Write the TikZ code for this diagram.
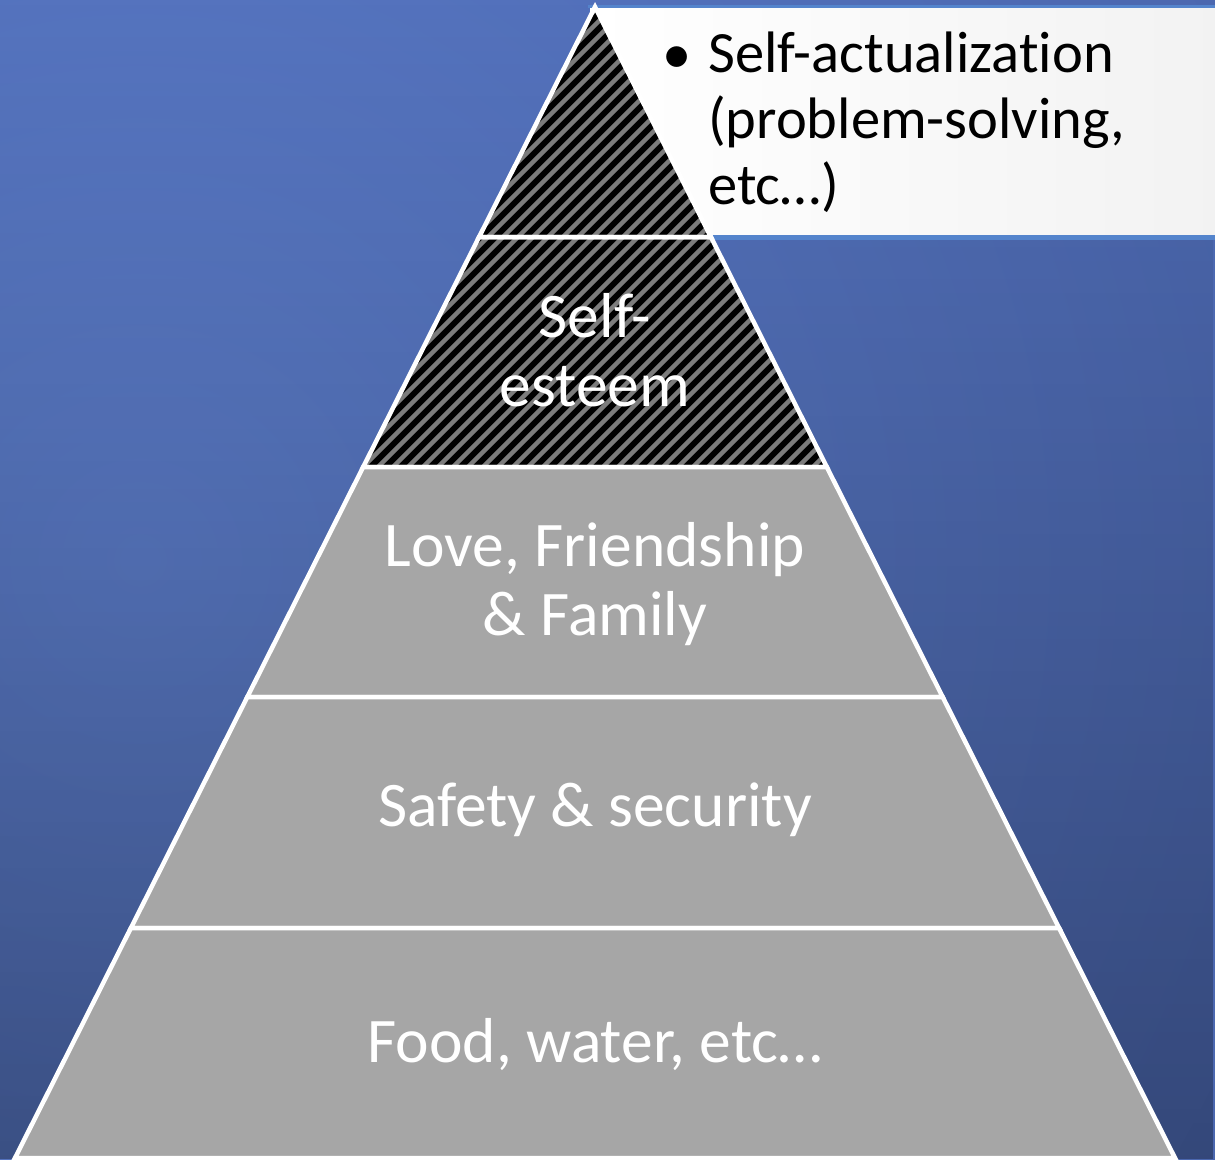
\documentclass[tikz,border=0pt]{standalone}
\usepackage{fontspec}
\setmainfont{Carlito}[Ligatures=NoCommon]
\usetikzlibrary{calc,fadings}

\definecolor{bgcenter}{RGB}{93,126,204}
\definecolor{bgmid}{RGB}{76,104,176}
\definecolor{bgedge}{RGB}{66,94,166}
\definecolor{bgdark}{RGB}{34,54,118}
\definecolor{tiergray}{RGB}{166,166,166}
\definecolor{hatchgray}{RGB}{124,124,124}
\definecolor{boxblue}{RGB}{84,132,204}

\pgfdeclareradialshading{bgglow}{\pgfpoint{0bp}{0bp}}{%
  color(0bp)=(bgcenter); color(22bp)=(bgmid); color(41bp)=(bgedge);
  color(48bp)=(bgdark); color(50bp)=(bgdark)}

\begin{document}
\begin{tikzpicture}[x=1pt,y=-1pt,
    tier/.style={draw=white, line width=4.5pt, line join=miter},
    tiertext/.style={text=white, font=\fontsize{63.5}{69}\selectfont, align=center, inner sep=0pt},
    boxtext/.style={text=black, font=\fontsize{58.5}{66}\selectfont, align=left, inner sep=0pt}]
    \useasboundingbox (0,0) rectangle (1215,1159);

    % background
    \begin{scope}
        \clip (0,0) rectangle (1215,1159);
        \fill[shading=bgglow] (140,560) circle (1300);
        \fill[black, opacity=0.3, path fading=north] (0,0) rectangle (1215,1159);
    \end{scope}

    % corner points of the pyramid
    \coordinate (A) at (595,7);
    \coordinate (L1) at (479.1,237);  \coordinate (R1) at (710.9,237);
    \coordinate (L2) at (363.2,467);  \coordinate (R2) at (826.8,467);
    \coordinate (L3) at (247.3,697);  \coordinate (R3) at (942.7,697);
    \coordinate (L4) at (130.9,928);  \coordinate (R4) at (1059.1,928);
    \coordinate (L5) at (15,1158);    \coordinate (R5) at (1175,1158);

    % text box behind the apex
    \shade[left color=white, right color=black!5] (590,6) rectangle (1215,237);
    \draw[boxblue, line width=3pt] (588,6) -- (1215,6);
    \draw[boxblue, line width=5pt] (590,237) -- (1215,237);

    % hatched top tiers
    \begin{scope}
        \clip (A) -- (L2) -- (R2) -- cycle;
        \fill[black] (A) -- (L2) -- (R2) -- cycle;
        \foreach \k in {0,...,58}
            \draw[hatchgray, line width=4.5pt] (\k*15,470) -- (\k*15+470,0);
    \end{scope}
    \draw[tier] (A) -- (L1) -- (R1) -- cycle;
    \draw[tier] (L1) -- (L2) -- (R2) -- (R1) -- cycle;

    % gray tiers
    \filldraw[tier, fill=tiergray] (L2) -- (L3) -- (R3) -- (R2) -- cycle;
    \filldraw[tier, fill=tiergray] (L3) -- (L4) -- (R4) -- (R3) -- cycle;
    \filldraw[tier, fill=tiergray] (L4) -- (L5) -- (R5) -- (R4) -- cycle;

    % labels
    \node[tiertext] (esteem) at (595,350) {Self-\\esteem};
    \node[tiertext] (love) at (595,584) {Love, Friendship\\\& Family};
    \node[tiertext] (safety) at (595,810) {Safety \& security};
    \node[tiertext] (food) at (595,1045) {Food, water, etc…};

    \node[boxtext, anchor=north west] (actual) at (708,32) {Self-actualization\\(problem-solving,\\etc…)};
    \node[boxtext, anchor=base] (dot) at (677,73) {\textbullet};
\end{tikzpicture}
\end{document}
